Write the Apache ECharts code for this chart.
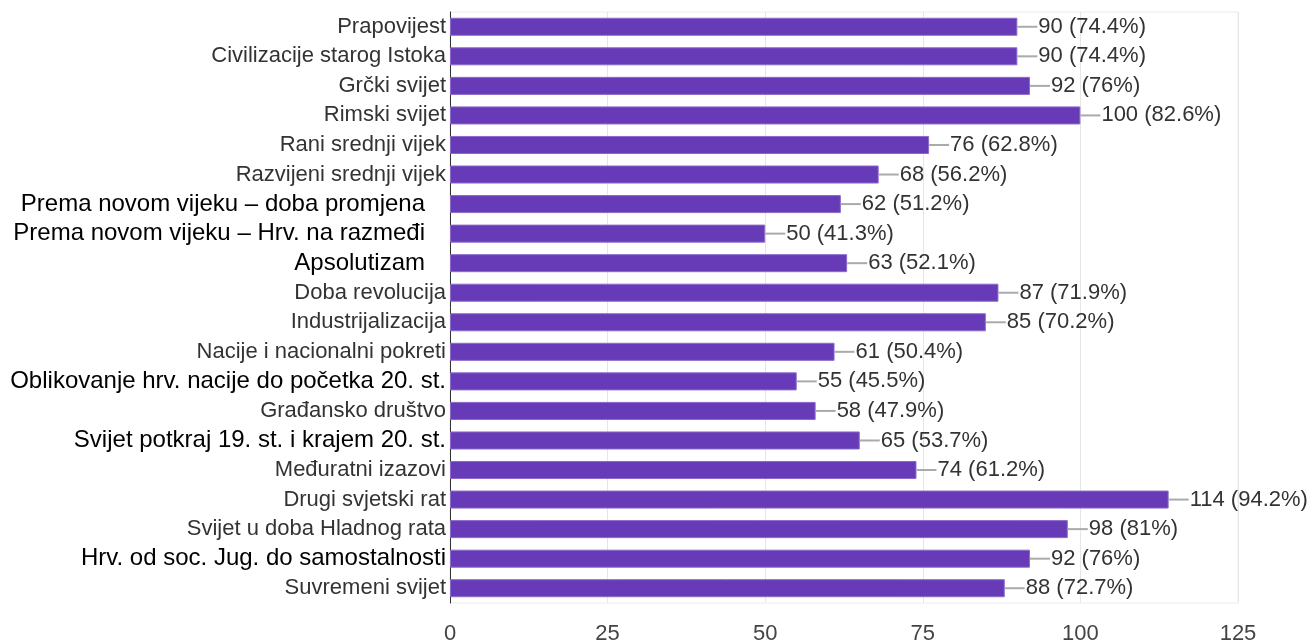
<!DOCTYPE html>
<html><head><meta charset="utf-8">
<script src="https://cdn.jsdelivr.net/npm/echarts@6/dist/echarts.min.js"></script>
<style>html,body{margin:0;padding:0;background:#fff}#c{width:1314px;height:641px}</style>
</head><body><div id="c"></div>
<script>
const categories = ["Prapovijest","Civilizacije starog Istoka","Grčki svijet","Rimski svijet","Rani srednji vijek","Razvijeni srednji vijek","Prema novom vijeku – doba promjena","Prema novom vijeku – Hrv. na razmeđi","Apsolutizam","Doba revolucija","Industrijalizacija","Nacije i nacionalni pokreti","Oblikovanje hrv. nacije do početka 20. st.","Građansko društvo","Svijet potkraj 19. st. i krajem 20. st.","Međuratni izazovi","Drugi svjetski rat","Svijet u doba Hladnog rata","Hrv. od soc. Jug. do samostalnosti","Suvremeni svijet"];
const values = [90,90,92,100,76,68,62,50,63,87,85,61,55,58,65,74,114,98,92,88];
const percents = ["74.4%","74.4%","76%","82.6%","62.8%","56.2%","51.2%","41.3%","52.1%","71.9%","70.2%","50.4%","45.5%","47.9%","53.7%","61.2%","94.2%","81%","76%","72.7%"];
const xTicks = [0,25,50,75,100,125];
// label style groups: 0 = default grey, 1 = black pasted (inset), 2 = black pasted (flush)
const labelStyle = [0,0,0,0,0,0,1,1,1,0,0,0,2,0,2,0,0,0,2,0];

const chart = echarts.init(document.getElementById('c'));
chart.setOption({
  animation:false,
  grid:{left:450,right:76,top:12,bottom:38,show:true,borderColor:'#ececec',borderWidth:1,containLabel:false,outerBoundsMode:'none'},
  xAxis:{type:'value',min:0,max:125,interval:25,
    axisLine:{show:false},axisTick:{show:false},
    splitLine:{lineStyle:{color:'#e6e6e6',width:1}},
    axisLabel:{margin:20,fontSize:22,color:'#444',fontFamily:'Liberation Sans, Arial',
      formatter:v=>xTicks.includes(v)?String(v):''}},
  yAxis:{type:'category',data:categories,inverse:true,
    axisLine:{show:true,lineStyle:{color:'#333',width:1}},axisTick:{show:false},
    axisLabel:{margin:4,fontFamily:'Liberation Sans, Arial',fontSize:22,color:'#333',
      formatter:(v,i)=>{const s=labelStyle[i];return s===0?'{g|'+v+'}':(s===1?'{bi|'+v+'}':'{b|'+v+'}');},
      rich:{
        g:{fontSize:22,color:'#333',fontFamily:'Liberation Sans, Arial'},
        b:{fontSize:24,color:'#000',fontFamily:'Liberation Sans, Arial'},
        bi:{fontSize:24,color:'#000',fontFamily:'Liberation Sans, Arial',padding:[0,21,0,0]}
      }}},
  series:[{type:'bar',data:values,barCategoryGap:'39%',
    itemStyle:{color:'#673ab7',borderColor:'#8a6acb',borderWidth:1},
    label:{show:true,position:'right',distance:0,
      formatter:p=>'{l|}{t|'+p.value+' ('+percents[p.dataIndex]+')}',
      rich:{
        l:{width:20,height:2,backgroundColor:'#aaa'},
        t:{fontSize:22,color:'#333',fontFamily:'Liberation Sans, Arial',padding:[0,0,0,1]}
      }}
  }]
});
</script></body></html>
